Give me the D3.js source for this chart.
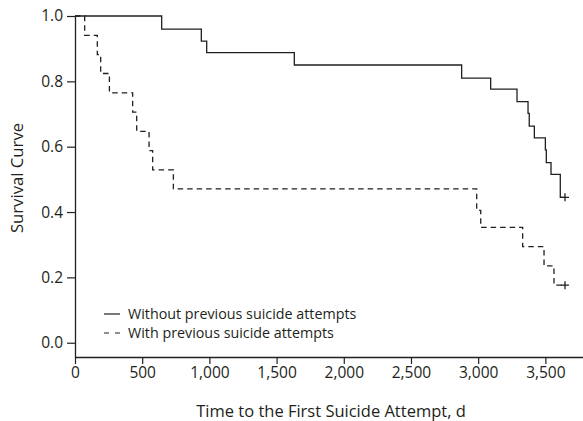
<!DOCTYPE html>
<html>
<head>
<meta charset="utf-8">
<script src="https://cdn.jsdelivr.net/npm/d3@7"></script>
<style>
  html, body { margin: 0; padding: 0; background: #fff; }
  svg { display: block; }
  text { font-family: "Open Sans", "DejaVu Sans", sans-serif; fill: #231f20; }
</style>
</head>
<body>
<svg id="chart" width="583" height="421"></svg>
<script>
// ---- data ----
const withoutTimes  = [0, 645, 940, 980, 1632, 2877, 3093, 3289, 3371, 3380, 3418, 3500, 3507, 3542, 3611];
const withoutValues = [1.0, 0.960, 0.923, 0.888, 0.850, 0.810, 0.776, 0.738, 0.702, 0.663, 0.627, 0.590, 0.551, 0.515, 0.445];
const withoutCensor = [3646];

const withTimes  = [0, 72, 166, 191, 256, 429, 459, 551, 578, 732, 2989, 3019, 3331, 3490, 3564];
const withValues = [1.0, 0.941, 0.882, 0.824, 0.765, 0.706, 0.647, 0.588, 0.529, 0.471, 0.405, 0.353, 0.294, 0.235, 0.176];
const withCensor = [3646];

const xTicks = [0, 500, 1000, 1500, 2000, 2500, 3000, 3500];
const yTicks = [0.0, 0.2, 0.4, 0.6, 0.8, 1.0];

const seriesNames = ["Without previous suicide attempts", "With previous suicide attempts"];
const xTitle = "Time to the First Suicide Attempt, d";
const yTitle = "Survival Curve";

// ---- drawing ----
const svg = d3.select("#chart");
const ink = "#231f20";

const x = d3.scaleLinear().domain([0, 3780]).range([75, 583]);
const y = d3.scaleLinear().domain([-0.0437, 1]).range([357, 16]);

const xAxis = d3.axisBottom(x).tickValues(xTicks).tickFormat(d3.format(","))
  .tickSize(7).tickSizeOuter(0).tickPadding(3);
const yAxis = d3.axisLeft(y).tickValues(yTicks).tickFormat(d3.format(".1f"))
  .tickSize(8).tickSizeOuter(0).tickPadding(4);

const gx = svg.append("g").attr("transform", `translate(0,${y.range()[0]})`).call(xAxis);
const gy = svg.append("g").attr("transform", `translate(${x.range()[0]},0)`).call(yAxis);
[gx, gy].forEach(g => {
  g.selectAll("path.domain").attr("stroke", ink).attr("stroke-width", 1.3);
  g.selectAll(".tick line").attr("stroke", ink).attr("stroke-width", 1.2);
  g.selectAll(".tick text").style("font-size", "15.5px").attr("fill", ink)
    .style("font-family", "'Open Sans', sans-serif");
});

// step curves
function stepPath(times, values, endT) {
  const pts = times.map((t, i) => [t, values[i]]);
  pts.push([endT, values[values.length - 1]]);
  return d3.line().x(d => x(d[0])).y(d => y(d[1])).curve(d3.curveStepAfter)(pts);
}

svg.append("path")
  .attr("d", stepPath(withoutTimes, withoutValues, withoutCensor[0]))
  .attr("fill", "none").attr("stroke", ink).attr("stroke-width", 1.3);

svg.append("path")
  .attr("d", stepPath(withTimes, withValues, withCensor[0]))
  .attr("fill", "none").attr("stroke", ink).attr("stroke-width", 1.3)
  .attr("stroke-dasharray", "5.5,4");

// censor marks
function plus(t, v) {
  const cx = x(t), cy = y(v), s = 4;
  svg.append("path")
    .attr("d", `M${cx - s},${cy}H${cx + s}M${cx},${cy - s}V${cy + s}`)
    .attr("stroke", ink).attr("stroke-width", 1.3).attr("fill", "none");
}
withoutCensor.forEach(t => plus(t, withoutValues[withoutValues.length - 1]));
withCensor.forEach(t => plus(t, withValues[withValues.length - 1]));

// legend
const legend = svg.append("g").attr("transform", "translate(104,314)");
legend.append("line").attr("x1", 0).attr("x2", 16).attr("y1", 0).attr("y2", 0)
  .attr("stroke", ink).attr("stroke-width", 1.2);
legend.append("line").attr("x1", 0).attr("x2", 16).attr("y1", 19).attr("y2", 19)
  .attr("stroke", ink).attr("stroke-width", 1.2).attr("stroke-dasharray", "5,6");
legend.selectAll("text.lg").data(seriesNames).enter().append("text")
  .attr("class", "lg")
  .attr("x", 24).attr("y", (d, i) => i * 19 + 5)
  .style("font-size", "14.3px")
  .text(d => d);

// axis titles
svg.append("text")
  .attr("x", 331).attr("y", 417)
  .attr("text-anchor", "middle")
  .style("font-size", "16.5px")
  .text(xTitle);

svg.append("text")
  .attr("transform", "translate(23,178) rotate(-90)")
  .attr("text-anchor", "middle")
  .style("font-size", "16.7px")
  .text(yTitle);
</script>
</body>
</html>
